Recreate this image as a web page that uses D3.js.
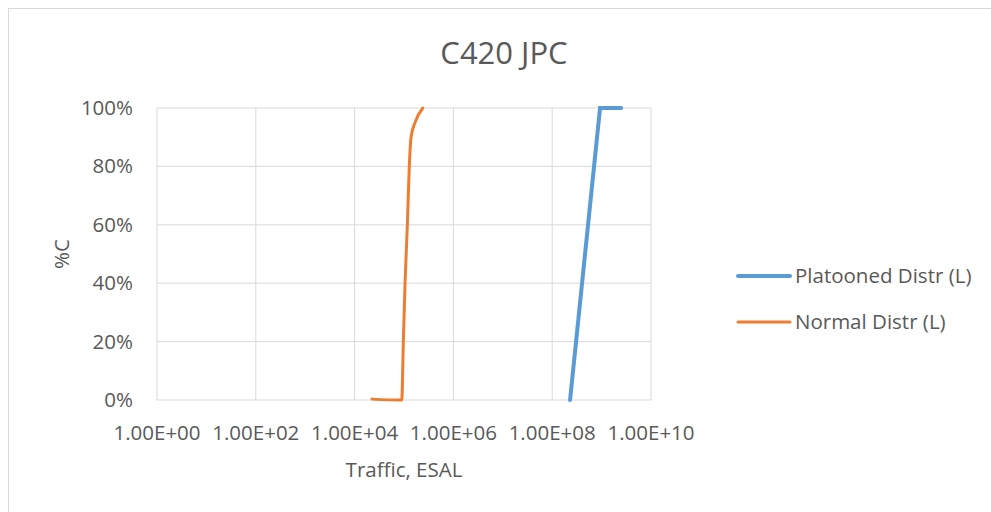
<!DOCTYPE html>
<html><head><meta charset="utf-8">
<script src="https://cdn.jsdelivr.net/npm/d3@7"></script>
<style>body{margin:0;background:#fff}svg{display:block}text{font-family:"Open Sans",sans-serif;fill:#595959}</style>
</head><body>
<script>
const title = "C420 JPC";
const xTicks = [1e0, 1e2, 1e4, 1e6, 1e8, 1e10];
const xTickLabels = ["1.00E+00","1.00E+02","1.00E+04","1.00E+06","1.00E+08","1.00E+10"];
const yTicks = [0, 0.2, 0.4, 0.6, 0.8, 1.0];
const yTickLabels = ["0%","20%","40%","60%","80%","100%"];
const seriesNames = ["Platooned Distr (L)", "Normal Distr (L)"];
const platoonedX = [2.3e8, 9.3e8, 2.5e9];
const platoonedY = [0, 1, 1];
const normalX = [2.25e4, 9.0e4, 9.7e4, 1.05e5, 1.17e5, 1.28e5, 1.39e5, 1.67e5, 2.4e5];
const normalY = [0.003, 0, 0.2, 0.4, 0.6, 0.8, 0.9, 0.95, 1.0];

const W = 991, H = 512, FS = 20.5;
const svg = d3.select("body").append("svg").attr("width", W).attr("height", H);
svg.append("rect").attr("x", 8.5).attr("y", 8.5).attr("width", 1000).attr("height", 520)
  .attr("fill", "#fff").attr("stroke", "#d9d9d9");

const x = d3.scaleLog().domain([1, 1e10]).range([157, 651]);
const y = d3.scaleLinear().domain([0, 1]).range([400, 108]);

svg.append("g").selectAll("line").data(xTicks).join("line")
  .attr("x1", d => x(d)).attr("x2", d => x(d)).attr("y1", y(0)).attr("y2", y(1))
  .attr("stroke", "#d9d9d9").attr("stroke-width", 1);
svg.append("g").selectAll("line").data(yTicks).join("line")
  .attr("x1", x(1)).attr("x2", x(1e10)).attr("y1", d => y(d)).attr("y2", d => y(d))
  .attr("stroke", "#d9d9d9").attr("stroke-width", 1);

svg.append("g").selectAll("text").data(yTicks).join("text")
  .attr("x", 133).attr("y", d => y(d) + 7).attr("text-anchor", "end")
  .attr("font-size", FS).text((d, i) => yTickLabels[i]);
svg.append("g").selectAll("text").data(xTicks).join("text")
  .attr("x", d => x(d)).attr("y", 440).attr("text-anchor", "middle")
  .attr("font-size", FS).text((d, i) => xTickLabels[i]);

svg.append("text").attr("x", 504).attr("y", 64).attr("text-anchor", "middle")
  .attr("font-size", 31).text(title);
svg.append("text").attr("x", 404).attr("y", 477).attr("text-anchor", "middle")
  .attr("font-size", FS).text("Traffic, ESAL");
svg.append("text").attr("transform", "translate(69,254) rotate(-90)")
  .attr("text-anchor", "middle").attr("font-size", FS).text("%C");

const plat = platoonedX.map((v, i) => [v, platoonedY[i]]);
const norm = normalX.map((v, i) => [v, normalY[i]]);
svg.append("path").datum(plat).attr("d", d3.line().x(d => x(d[0])).y(d => y(d[1])))
  .attr("fill", "none").attr("stroke", "#5B9BD5").attr("stroke-width", 4).attr("stroke-linecap", "round");
svg.append("path").datum(norm).attr("d", d3.line().x(d => x(d[0])).y(d => y(d[1])).curve(d3.curveMonotoneX))
  .attr("fill", "none").attr("stroke", "#ED7D31").attr("stroke-width", 3).attr("stroke-linecap", "round");

const legY = [276, 322], legC = ["#5B9BD5", "#ED7D31"], legW = [4, 3];
seriesNames.forEach((n, i) => {
  svg.append("line").attr("x1", 738).attr("x2", 790).attr("y1", legY[i]).attr("y2", legY[i])
    .attr("stroke", legC[i]).attr("stroke-width", legW[i]).attr("stroke-linecap", "round");
  svg.append("text").attr("x", 795).attr("y", legY[i] + 7).attr("font-size", FS).text(n);
});
</script>
</body></html>
